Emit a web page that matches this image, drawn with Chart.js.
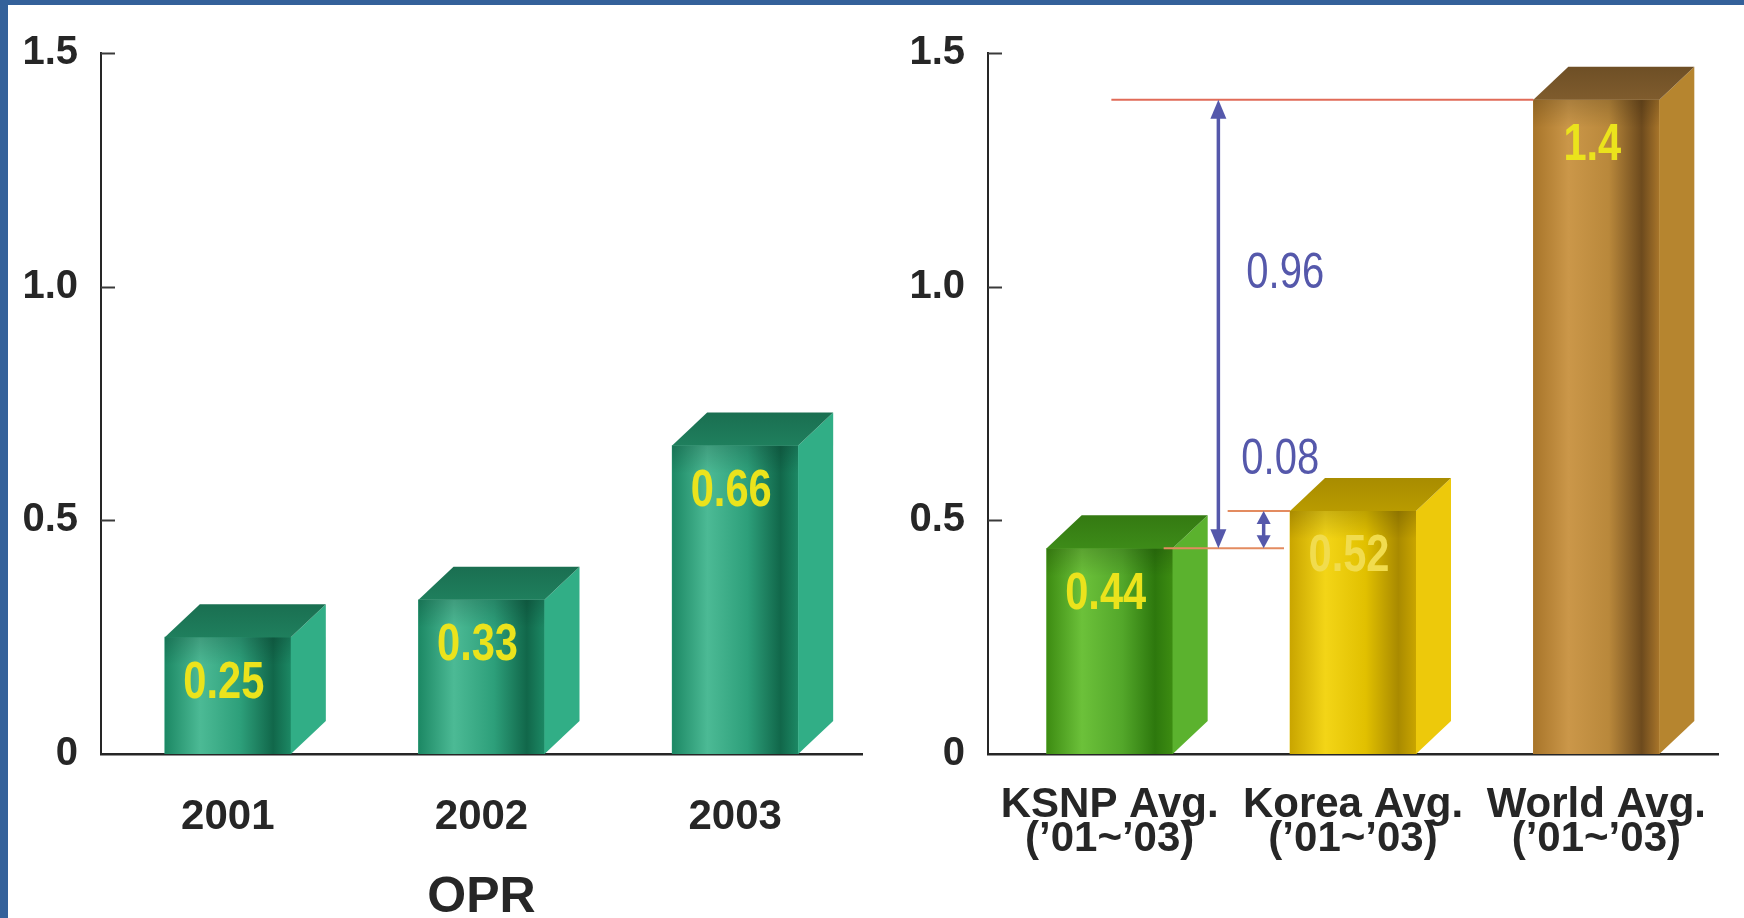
<!DOCTYPE html>
<html>
<head>
<meta charset="utf-8">
<title>OPR</title>
<script src="https://cdn.jsdelivr.net/npm/chart.js@4.4.1/dist/chart.umd.min.js"></script>
<style>
  html, body { margin: 0; padding: 0; background: #ffffff; }
  #stage { position: relative; width: 1744px; height: 918px; overflow: hidden; background: #ffffff; }
  #oprBox { position: absolute; left: 0; top: 0; width: 880px; height: 918px; }
  #avgBox { position: absolute; left: 880px; top: 0; width: 864px; height: 918px; }
  .frame-top { position: absolute; left: 0; top: 0; width: 1744px; height: 5px; background: #34619a; z-index: 5; }
  .frame-left { position: absolute; left: 0; top: 0; width: 8px; height: 918px; background: #34619a; z-index: 5; }
</style>
</head>
<body>
<div id="stage">
  <div id="oprBox"><canvas id="oprChart" width="880" height="918" style="width:880px;height:918px"></canvas></div>
  <div id="avgBox"><canvas id="avgChart" width="864" height="918" style="width:864px;height:918px"></canvas></div>
  <div class="frame-top"></div>
  <div class="frame-left"></div>
</div>
<script>
// ---- data ----
const oprYears = ['2001', '2002', '2003'];
const oprValues = [0.25, 0.33, 0.66];
const oprTitle = 'OPR';

const avgCategories = [
  ['KSNP Avg.', '(\u201901~\u201903)'],
  ['Korea Avg.', '(\u201901~\u201903)'],
  ['World Avg.', '(\u201901~\u201903)']
];
const avgValues = [0.44, 0.52, 1.4];

const yTickValues = [0, 0.5, 1.0, 1.5];
const yTickLabels = ['0', '0.5', '1.0', '1.5'];

// ---- styles ----
const SANS = '"Liberation Sans", Arial, Helvetica, sans-serif';
const AXIS_INK = '#262626';
const DEPTH = { dx: 35, dy: 33 };
const SQUEEZE = 0.8;   // horizontal compression for the condensed number labels

const palettes = {
  teal:   { edge: '#1c8864', light: '#4cba95', mid: '#2d9f7a', dark: '#11674a', side: '#31ae86', top: '#1f7f5d', topBack: '#1a6f51' },
  green:  { edge: '#3d8c12', light: '#6cc13a', mid: '#53a72a', dark: '#2d780d', side: '#5bb22e', top: '#3d8b18', topBack: '#347a12' },
  yellow: { edge: '#c9a500', light: '#f3d517', mid: '#e1c000', dark: '#a98a00', side: '#edc90b', top: '#b99b00', topBack: '#a88c00' },
  brown:  { edge: '#a8752a', light: '#cb9749', mid: '#b9883b', dark: '#6d4a1d', side: '#b6852f', top: '#7f5c2d', topBack: '#6e4f26' }
};
const oprPalette = [palettes.teal, palettes.teal, palettes.teal];
const avgPalette = [palettes.green, palettes.yellow, palettes.brown];

const valueInk = ['#ebe31c', '#ebe31c', '#ebe31c'];
const avgValueInk = ['#ebe31c', '#f1dc4e', '#ebe31c'];

const arrowInk = '#5558ab';
const levelInk = '#e16b58';
const levelInkLow = '#e38b60';

// ---- drawing helpers ----
function poly(ctx, pts, fill) {
  ctx.beginPath();
  ctx.moveTo(pts[0][0], pts[0][1]);
  for (let i = 1; i < pts.length; i++) ctx.lineTo(pts[i][0], pts[i][1]);
  ctx.closePath();
  ctx.fillStyle = fill;
  ctx.fill();
}

// condensed text: draw with a horizontal squeeze around the anchor point
function narrowText(ctx, text, x, y) {
  ctx.save();
  ctx.translate(x, y);
  ctx.scale(SQUEEZE, 1);
  ctx.fillText(text, 0, 0);
  ctx.restore();
}

function drawBox(ctx, el, pal) {
  const { x, y, base, width } = el.getProps(['x', 'y', 'base', 'width'], true);
  const xl = x - width / 2, xr = x + width / 2;
  const { dx, dy } = DEPTH;
  // front face: rounded shading across the width
  const g = ctx.createLinearGradient(xl, 0, xr, 0);
  g.addColorStop(0, pal.edge);
  g.addColorStop(0.28, pal.light);
  g.addColorStop(0.6, pal.mid);
  g.addColorStop(0.86, pal.dark);
  g.addColorStop(1, pal.edge);
  ctx.fillStyle = g;
  ctx.fillRect(xl, y, xr - xl, base - y);
  // soft shadow under the lid
  const sh = ctx.createLinearGradient(0, y, 0, y + 28);
  sh.addColorStop(0, 'rgba(0,0,0,0.16)');
  sh.addColorStop(1, 'rgba(0,0,0,0)');
  ctx.fillStyle = sh;
  ctx.fillRect(xl, y, xr - xl, Math.min(28, base - y));
  // side face
  poly(ctx, [[xr, y], [xr + dx, y - dy], [xr + dx, base - dy], [xr, base]], pal.side);
  // lid
  const tg = ctx.createLinearGradient(0, y - dy, 0, y);
  tg.addColorStop(0, pal.topBack);
  tg.addColorStop(1, pal.top);
  poly(ctx, [[xl, y], [xl + dx, y - dy], [xr + dx, y - dy], [xr, y]], tg);
}

const boxBars = {
  id: 'boxBars',
  afterDatasetsDraw(chart, args, opts) {
    const ctx = chart.ctx;
    const meta = chart.getDatasetMeta(0);
    const values = chart.data.datasets[0].data;
    ctx.save();
    meta.data.forEach((el, i) => drawBox(ctx, el, opts.palette[i]));
    // value labels on the front faces
    ctx.font = 'bold 52px ' + SANS;
    ctx.textAlign = 'center';
    ctx.textBaseline = 'middle';
    meta.data.forEach((el, i) => {
      const { x, y } = el.getProps(['x', 'y'], true);
      ctx.fillStyle = opts.ink[i];
      narrowText(ctx, String(values[i]), x - 4, y + 46);
    });
    ctx.restore();
  }
};

// small inward ticks on the value axis
const innerTicks = {
  id: 'innerTicks',
  afterDraw(chart) {
    const ctx = chart.ctx;
    const ys = chart.scales.y;
    const left = chart.chartArea.left;
    ctx.save();
    ctx.strokeStyle = '#3a3a3a';
    ctx.lineWidth = 2;
    yTickValues.forEach(v => {
      if (v === 0) return;
      const py = Math.round(ys.getPixelForValue(v)) + 0.5;
      ctx.beginPath();
      ctx.moveTo(left, py);
      ctx.lineTo(left + 14, py);
      ctx.stroke();
    });
    ctx.restore();
  }
};

function arrowHead(ctx, x, tipY, dir, len, half) {
  // dir = -1 points up, +1 points down
  ctx.beginPath();
  ctx.moveTo(x, tipY);
  ctx.lineTo(x - half, tipY - dir * len);
  ctx.lineTo(x + half, tipY - dir * len);
  ctx.closePath();
  ctx.fill();
}

function doubleArrow(ctx, x, yTop, yBottom, len, half) {
  ctx.strokeStyle = arrowInk;
  ctx.fillStyle = arrowInk;
  ctx.lineWidth = 3.5;
  ctx.beginPath();
  ctx.moveTo(x, yTop + len / 2);
  ctx.lineTo(x, yBottom - len / 2);
  ctx.stroke();
  arrowHead(ctx, x, yTop, -1, len, half);
  arrowHead(ctx, x, yBottom, 1, len, half);
}

function hLine(ctx, x1, x2, y, color) {
  ctx.strokeStyle = color;
  ctx.lineWidth = 2;
  ctx.beginPath();
  ctx.moveTo(x1, y);
  ctx.lineTo(x2, y);
  ctx.stroke();
}

// gap markers between the averages
const gapMarkers = {
  id: 'gapMarkers',
  afterDatasetsDraw(chart) {
    const ctx = chart.ctx;
    const ys = chart.scales.y;
    const bars = chart.getDatasetMeta(0).data.map(el => el.getProps(['x', 'y', 'width'], true));
    const [ksnp, korea, world] = bars;
    const yK = ys.getPixelForValue(avgValues[0]);
    const yR = ys.getPixelForValue(avgValues[1]);
    const yW = ys.getPixelForValue(avgValues[2]);
    const gapL = ksnp.x + ksnp.width / 2 + DEPTH.dx;
    const gapR = korea.x - korea.width / 2;
    const gap = gapR - gapL;
    const xLong = gapL + gap * 0.13;
    const xShort = gapL + gap * 0.68;
    ctx.save();
    hLine(ctx, xLong - 107, world.x - world.width / 2, yW, levelInk);
    hLine(ctx, ksnp.x + ksnp.width / 2 - 9, gapR - 6, yK, levelInkLow);
    hLine(ctx, xShort - 36, gapR, yR, levelInkLow);
    doubleArrow(ctx, xLong, yW, yK, 19, 8);
    doubleArrow(ctx, xShort, yR, yK, 13, 7);
    ctx.fillStyle = arrowInk;
    ctx.font = '50px ' + SANS;
    ctx.textAlign = 'left';
    ctx.textBaseline = 'middle';
    narrowText(ctx, (avgValues[2] - avgValues[0]).toFixed(2), xLong + 28, yW + (yK - yW) * 0.39);
    ctx.textBaseline = 'alphabetic';
    narrowText(ctx, (avgValues[1] - avgValues[0]).toFixed(2), xLong + 23, yR - 37);
    ctx.restore();
  }
};

function baseOptions(cfg) {
  return {
    responsive: false,
    animation: false,
    events: [],
    layout: { padding: { top: 53, right: cfg.padRight, bottom: 0, left: 0 } },
    plugins: {
      legend: { display: false },
      tooltip: { enabled: false },
      boxBars: { palette: cfg.palette, ink: cfg.ink }
    },
    scales: {
      x: {
        type: 'category',
        offset: true,
        grid: { display: false, drawTicks: false },
        border: { display: true, color: AXIS_INK, width: 2.5 },
        ticks: {
          color: AXIS_INK,
          padding: cfg.xPad,
          maxRotation: 0,
          autoSkip: false,
          font: { family: SANS, weight: 'bold', size: cfg.xFont, lineHeight: cfg.xLine }
        },
        title: cfg.title ? {
          display: true,
          text: cfg.title,
          color: AXIS_INK,
          font: { family: SANS, weight: 'bold', size: 50, lineHeight: 0.8 },
          padding: { top: 0, bottom: 0 }
        } : { display: false },
        afterFit: s => { s.height = 918 - 754; }
      },
      y: {
        type: 'linear',
        min: 0,
        max: 1.5,
        afterBuildTicks: s => { s.ticks = yTickValues.map(v => ({ value: v })); },
        grid: { display: false, drawTicks: false },
        border: { display: true, color: AXIS_INK, width: 2 },
        ticks: {
          color: AXIS_INK,
          padding: 23,
          font: { family: SANS, weight: 'bold', size: 40 },
          callback: v => yTickLabels[yTickValues.indexOf(v)]
        },
        afterFit: s => { s.width = cfg.yWidth; }
      }
    }
  };
}

new Chart(document.getElementById('oprChart'), {
  type: 'bar',
  data: {
    labels: oprYears,
    datasets: [{ data: oprValues, backgroundColor: '#2d9f7a', borderWidth: 0, barThickness: 126 }]
  },
  options: baseOptions({ padRight: 18, yWidth: 101, xPad: 38, xFont: 42, xLine: 1.2, title: oprTitle, palette: oprPalette, ink: valueInk }),
  plugins: [boxBars, innerTicks]
});

new Chart(document.getElementById('avgChart'), {
  type: 'bar',
  data: {
    labels: avgCategories,
    datasets: [{ data: avgValues, backgroundColor: ['#53a72a', '#e1c000', '#b9883b'], borderWidth: 0, barThickness: 126 }]
  },
  options: baseOptions({ padRight: 24, yWidth: 108, xPad: 34, xFont: 42, xLine: 0.82, title: null, palette: avgPalette, ink: avgValueInk }),
  plugins: [boxBars, innerTicks, gapMarkers]
});
</script>
</body>
</html>
